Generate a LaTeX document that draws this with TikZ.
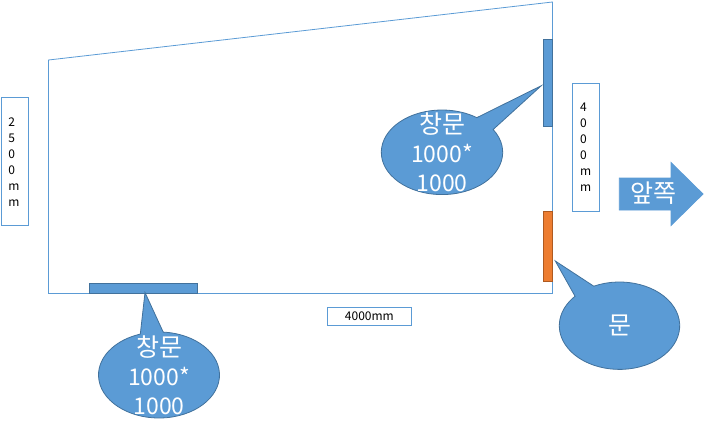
\documentclass[tikz,border=0pt]{standalone}
\usepackage{fontspec}
\setmainfont{Noto Sans CJK KR}
\definecolor{blueF}{HTML}{5B9BD5}
\definecolor{blueD}{HTML}{41719C}
\definecolor{orangeF}{HTML}{ED7D31}
\definecolor{orangeD}{HTML}{AE5A21}
\newcommand{\kr}[1]{{\fontsize{25}{29}\selectfont #1}}
\tikzset{
  wall/.style={draw=blueF,line width=0.8pt,line join=miter},
  shapeblue/.style={draw=blueD,fill=blueF,line width=0.8pt},
  shapeorange/.style={draw=orangeD,fill=orangeF,line width=0.8pt},
  dimbox/.style={draw=blueF,fill=white,line width=0.8pt},
  dimtext/.style={inner sep=0pt,font=\fontsize{12}{16}\selectfont,text=black,align=left},
  calltext/.style={inner sep=0pt,font=\fontsize{23}{29}\selectfont,text=white,align=center},
}
\begin{document}
\begin{tikzpicture}[x=1pt,y=-1pt]
\useasboundingbox (0,0) rectangle (704,433);
% room
\draw[wall] (48.5,60) -- (552.5,2) -- (552.5,293.5) -- (48.5,293.5) -- cycle;
% windows and door
\draw[shapeblue] (89.3,283.3) rectangle (197.7,293.3);
\draw[shapeblue] (543.3,39.3) rectangle (552.5,126.5);
\draw[shapeorange] (543.3,211.3) rectangle (552.5,281.7);
% dimension boxes
\draw[dimbox] (1.5,97.5) rectangle (28.5,225.5);
\node[dimtext,anchor=north west] (dimL) at (8.3,117.5) {2\\5\\0\\0\\m\\m};
\draw[dimbox] (572.3,83.5) rectangle (599.5,211);
\node[dimtext,anchor=north west] (dimR) at (580,103) {4\\0\\0\\0\\m\\m};
\draw[dimbox] (327.3,307.5) rectangle (411.5,325.3);
\node[dimtext,anchor=center] (dimB) at (369.4,316) {4000mm};
% callouts
\draw[shapeblue] ({159+60.5*cos(-86)},{375+43*sin(-86)}) arc[start angle=-86,end angle=252,x radius=60.5,y radius=43] -- (145,292.5) -- cycle;
\node[calltext] (c1) at (159,375) {\kr{창문}\\1000*\\1000};
\draw[shapeblue] ({442+60.7*cos(-32.6)},{152.3+42.3*sin(-32.6)}) arc[start angle=-32.6,end angle=305,x radius=60.7,y radius=42.3] -- (541.3,85.7) -- cycle;
\node[calltext] (c2) at (442,152.3) {\kr{창문}\\1000*\\1000};
\draw[shapeblue] ({619.5+60.2*cos(-115.3)},{325.7+43.7*sin(-115.3)}) arc[start angle=-115.3,end angle=222.4,x radius=60.2,y radius=43.7] -- (555.3,261) -- cycle;
\node[calltext] (c3) at (619.5,325.7) {\kr{문}};
% arrow
\draw[shapeblue,draw=blueF] (619.3,178) -- (671,178) -- (671,162.5) -- (703,194) -- (671,225.5) -- (671,210) -- (619.3,210) -- cycle;
\node[calltext] (front) at (653,193) {\kr{앞쪽}};
\end{tikzpicture}
\end{document}
